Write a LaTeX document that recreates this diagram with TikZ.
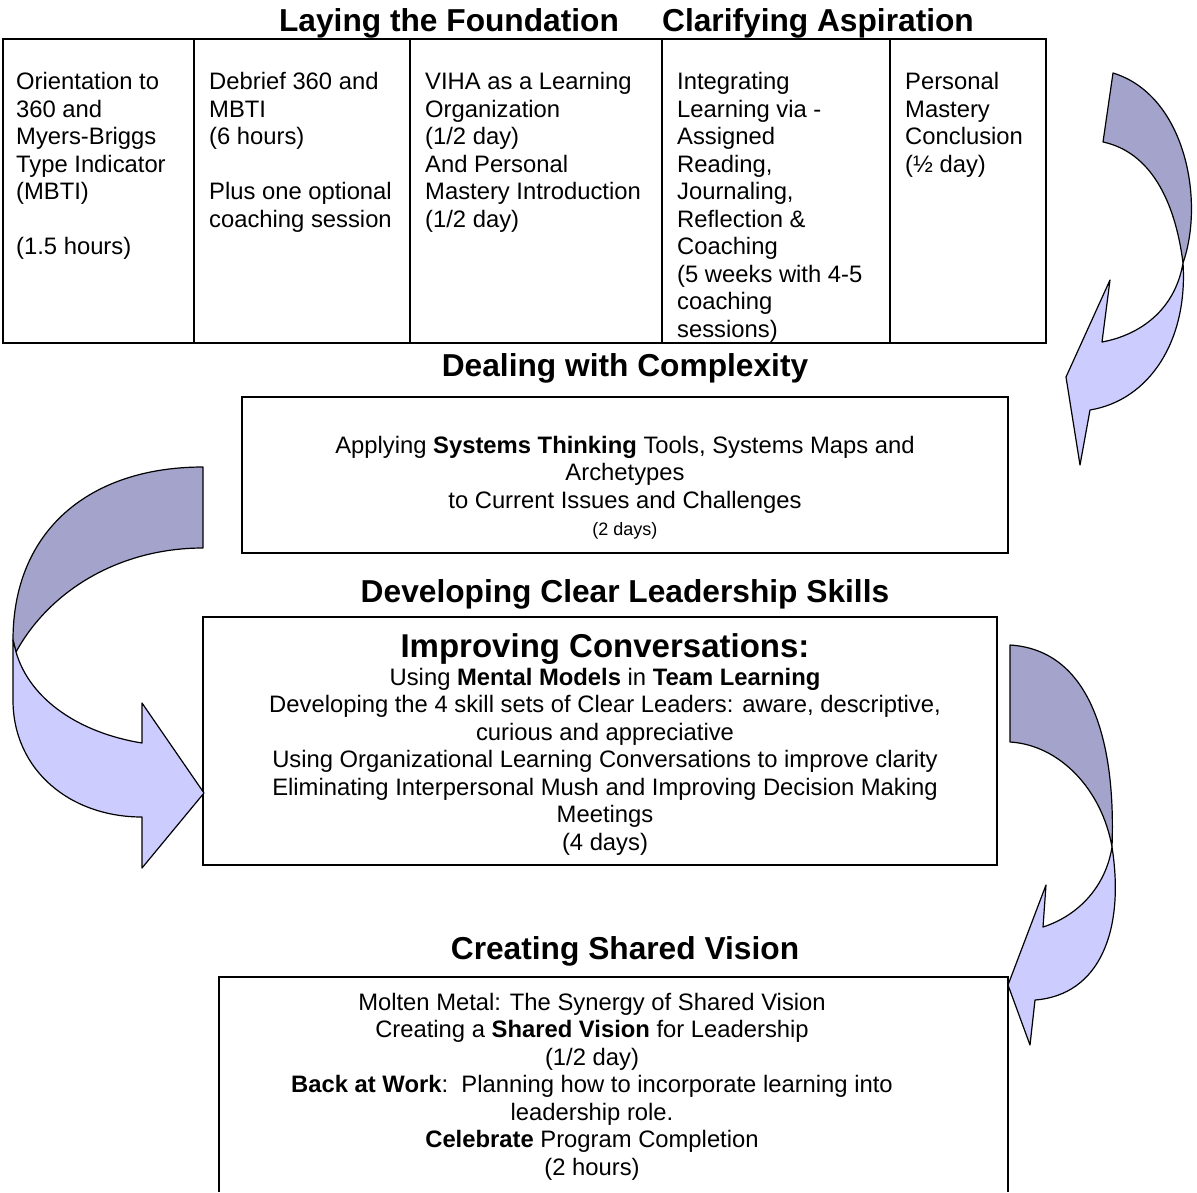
\documentclass[tikz,border=0pt]{standalone}
\usepackage{fontspec}
\setmainfont{Liberation Sans}
\usepackage{tikz}
\definecolor{bandback}{RGB}{163,163,204}
\definecolor{bandfront}{RGB}{204,204,255}
\tikzset{
  bodyfont/.style={font=\fontsize{23.8}{27.5}\selectfont},
  headfont/.style={font=\bfseries\fontsize{31.7}{36}\selectfont},
  cell/.style={bodyfont,inner sep=0pt,align=left,anchor=north west,execute at begin node=\strut},
  boxtext/.style={bodyfont,inner sep=0pt,align=center,anchor=north,execute at begin node=\strut},
  stagehead/.style={headfont,inner sep=0pt,anchor=base},
  frame/.style={draw=black,line width=1.5pt},
  backband/.style={fill=bandback,draw=black,line width=1.2pt,line join=round},
  frontband/.style={fill=bandfront,draw=black,line width=1.2pt,line join=round}
}
\begin{document}
\begin{tikzpicture}[x=1pt,y=-1pt]
   \useasboundingbox (0,0) rectangle (1197,1192);

   \node[stagehead] (found) at (449,31) {Laying the Foundation};
   \node[stagehead] (aspire) at (818,31) {Clarifying Aspiration};

   \draw[frame] (3,39) rectangle (1046,343);
   \foreach \x in {194,410,662,890}
      \draw[frame] (\x,39) -- (\x,343);

   \node[cell] (orient) at (16,72.5) {Orientation to\\360 and\\Myers-Briggs\\Type Indicator\\(MBTI)\\[27.5pt](1.5 hours)};
   \node[cell] (debrief) at (209,72.5) {Debrief 360 and\\MBTI\\(6 hours)\\[27.5pt]Plus one optional\\coaching session};
   \node[cell] (viha) at (425,72.5) {VIHA as a Learning\\Organization\\(1/2 day)\\And Personal\\Mastery Introduction\\(1/2 day)};
   \node[cell] (integ) at (677,72.5) {Integrating\\Learning via -\\Assigned\\Reading,\\Journaling,\\Reflection \&\\Coaching\\(5 weeks with 4-5\\coaching\\sessions)};
   \node[cell] (concl) at (905,72.5) {Personal\\Mastery\\Conclusion\\(½ day)};

   \node[stagehead] (complex) at (625,376.3) {Dealing with Complexity};
   \draw[frame] (242,397) rectangle (1008,553);
   \node[boxtext] (systems) at (625,436) {Applying \textbf{Systems Thinking} Tools, Systems Maps and\\Archetypes\\to Current Issues and Challenges\\{\fontsize{18}{27.5}\selectfont (2 days)}};

   \node[stagehead] (clear) at (625,602.3) {Developing Clear Leadership Skills};
   \draw[frame] (203,617) rectangle (997,865);
   \node[inner sep=0pt,anchor=base,font=\bfseries\fontsize{33}{36}\selectfont] (convhead) at (605,657.8) {Improving Conversations:};
   \node[boxtext] (conv) at (605,668) {Using \textbf{Mental Models} in \textbf{Team Learning}\\Developing the 4 skill sets of Clear Leaders: aware, descriptive,\\curious and appreciative\\Using Organizational Learning Conversations to improve clarity\\Eliminating Interpersonal Mush and Improving Decision Making\\Meetings\\(4 days)};

   \node[stagehead] (vision) at (625,959.3) {Creating Shared Vision};
   \draw[frame] (219,1192) -- (219,977) -- (1008,977) -- (1008,1192);
   \node[boxtext] (molten) at (592,993) {Molten Metal: The Synergy of Shared Vision\\Creating a \textbf{Shared Vision} for Leadership\\(1/2 day)\\\textbf{Back at Work}:~~Planning how to incorporate learning into\\leadership role.\\\textbf{Celebrate} Program Completion\\(2 hours)};

   \draw[backband] (1113,73) .. controls (1185,95) and (1205,200) .. (1183,263)
      .. controls (1175,200) and (1150,152) .. (1103,142) -- cycle;
   \draw[frontband] (1183,263) .. controls (1188,340) and (1150,400) .. (1090,410)
      -- (1080,465) -- (1066,377) -- (1110,280) -- (1102,342)
      .. controls (1140,335) and (1175,310) .. (1183,263) -- cycle;

   \draw[backband] (203,467) .. controls (90,467) and (13,530) .. (13,640) -- (16,652)
      .. controls (50,590) and (120,548) .. (203,548) -- cycle;
   \draw[frontband] (16,652) -- (13,640) -- (13,700) .. controls (13,770) and (70,817) .. (142,817)
      -- (142,868) -- (204,793) -- (142,703) -- (142,743)
      .. controls (80,733) and (30,700) .. (16,652) -- cycle;

   \draw[backband] (1010,645) .. controls (1090,650) and (1116,740) .. (1112,847)
      .. controls (1102,790) and (1060,745) .. (1010,742) -- cycle;
   \draw[frontband] (1112,847) .. controls (1125,930) and (1100,995) .. (1035,1000)
      -- (1030,1045) -- (1008,985) -- (1046,885) -- (1043,927)
      .. controls (1080,915) and (1106,885) .. (1112,847) -- cycle;
\end{tikzpicture}
\end{document}
